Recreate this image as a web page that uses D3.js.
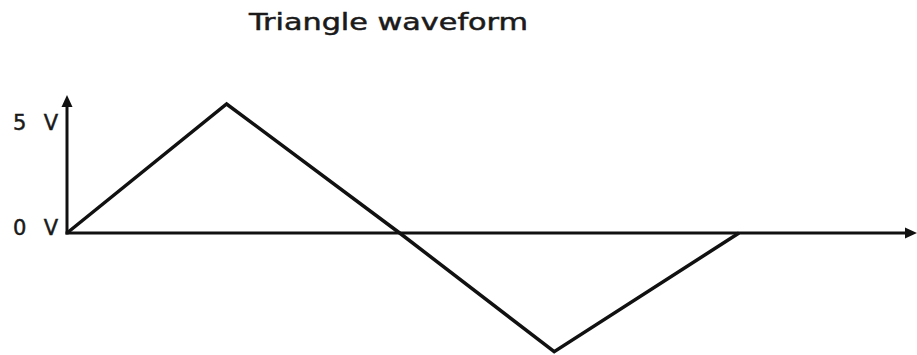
<!DOCTYPE html>
<html>
<head>
<meta charset="utf-8">
<script src="https://cdn.jsdelivr.net/npm/d3@7"></script>
<style>
  html, body { margin: 0; padding: 0; background: #fff; }
  svg { display: block; }
</style>
</head>
<body>
<svg id="chart" width="917" height="355"></svg>
<script>
// Waveform vertices: time (quarter periods) and voltage
const times = [0, 0.95, 1.98, 2.9, 4.0];
const volts = [0, 5, 0, -4.6, 0];
// Labelled voltage levels on the vertical axis
const tickValues = [5, 0];
const tickLabels = ["5 V", "0 V"];
const title = "Triangle waveform";

const svg = d3.select("#chart");

const x = d3.scaleLinear().domain([0, 4]).range([67, 739]);
const y = d3.scaleLinear().domain([0, 5]).range([233, 104]);

const ink = "#111";
const font = "DejaVu Sans, Verdana, sans-serif";

// Title
svg.append("text")
  .attr("x", 249).attr("y", 30)
  .attr("font-family", font)
  .attr("font-size", 23)
  .attr("fill", "#1a1a1a")
  .attr("stroke", "#1a1a1a")
  .attr("stroke-width", 0.5)
  .attr("textLength", 279)
  .attr("lengthAdjust", "spacingAndGlyphs")
  .text(title);

// Axes: vertical axis with arrow at top, horizontal axis with arrow at right
const yTop = y(5.35);
const xEnd = 917;
const x0 = x(0), y0 = y(0);

svg.append("line")
  .attr("x1", x0).attr("y1", y0 + 1.5)
  .attr("x2", x0).attr("y2", yTop + 8)
  .attr("stroke", ink).attr("stroke-width", 3);
svg.append("path")
  .attr("d", `M${x0},${yTop} L${x0 - 5.5},${yTop + 12} L${x0 + 5.5},${yTop + 12} Z`)
  .attr("fill", ink);

svg.append("line")
  .attr("x1", x0 - 1.5).attr("y1", y0)
  .attr("x2", xEnd - 8).attr("y2", y0)
  .attr("stroke", ink).attr("stroke-width", 3);
svg.append("path")
  .attr("d", `M${xEnd},${y0} L${xEnd - 12},${y0 - 5.5} L${xEnd - 12},${y0 + 5.5} Z`)
  .attr("fill", ink);

// Voltage labels beside the vertical axis
svg.selectAll("text.tick")
  .data(tickValues)
  .enter().append("text")
  .attr("class", "tick")
  .attr("x", 13)
  .attr("y", d => d === 0 ? y(d) + 2 : y(d) + 26)
  .attr("font-family", font)
  .attr("font-size", 21)
  .attr("fill", "#1a1a1a")
  .attr("stroke", "#1a1a1a")
  .attr("stroke-width", 0.5)
  .attr("textLength", 45)
  .attr("lengthAdjust", "spacing")
  .text((d, i) => tickLabels[i]);

// Waveform
const pts = times.map((t, i) => [t, volts[i]]);
svg.append("path")
  .datum(pts)
  .attr("d", d3.line().x(d => x(d[0])).y(d => y(d[1])))
  .attr("fill", "none")
  .attr("stroke", ink)
  .attr("stroke-width", 3.5)
  .attr("stroke-linejoin", "miter");
</script>
</body>
</html>
